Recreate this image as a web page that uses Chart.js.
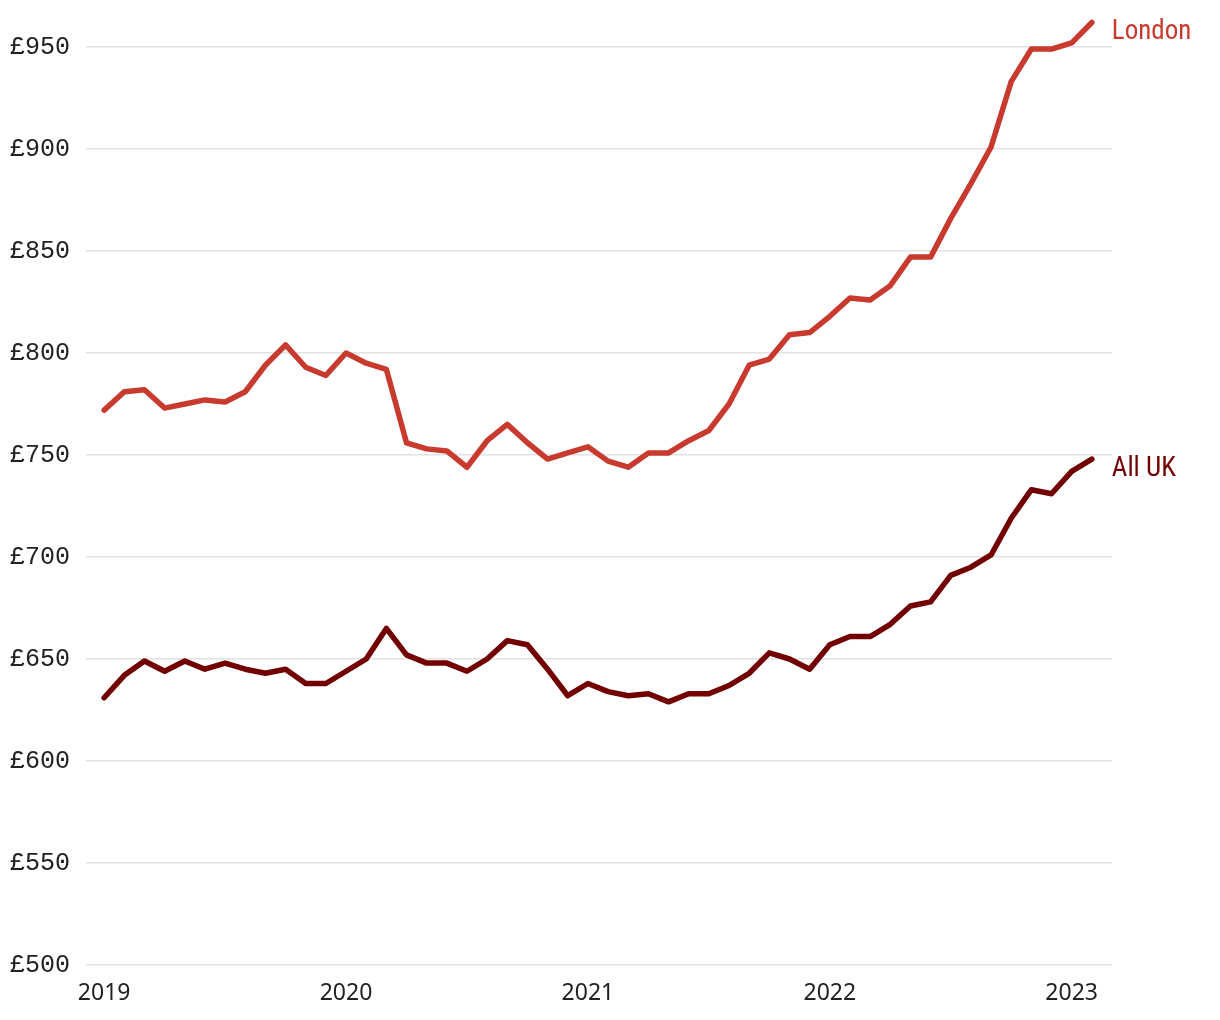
<!DOCTYPE html>
<html>
<head>
<meta charset="utf-8">
<script src="https://cdn.jsdelivr.net/npm/chart.js@4"></script>
<style>
  html, body { margin: 0; padding: 0; background: #ffffff; }
  #wrap { width: 1220px; height: 1020px; position: relative; }
</style>
</head>
<body>
<div id="wrap"><canvas id="c" width="1220" height="1020"></canvas></div>
<script>
// Monthly data, Jan 2019 – Feb 2023 (index 0 = Jan 2019)
const months = Array.from({length: 50}, (_, i) => i);
const londonValues = [772, 781, 782, 773, 775, 777, 776, 781, 794, 804, 793, 789,
                      800, 795, 792, 756, 753, 752, 744, 757, 765, 756, 748, 751,
                      754, 747, 744, 751, 751, 757, 762, 775, 794, 797, 809, 810,
                      818, 827, 826, 833, 847, 847, 866, 883, 901, 933, 949, 949,
                      952, 962];
const ukValues = [631, 642, 649, 644, 649, 645, 648, 645, 643, 645, 638, 638,
                  644, 650, 665, 652, 648, 648, 644, 650, 659, 657, 645, 632,
                  638, 634, 632, 633, 629, 633, 633, 637, 643, 653, 650, 645,
                  657, 661, 661, 667, 676, 678, 691, 695, 701, 719, 733, 731,
                  742, 748];
const seriesNames = ['London', 'All UK'];
const yearTickValues = [0, 12, 24, 36, 48];
const yearTickLabels = ['2019', '2020', '2021', '2022', '2023'];
const yTickValues = [500, 550, 600, 650, 700, 750, 800, 850, 900, 950];

const colors = ['#c93a2e', '#730000'];

const endLabels = {
  id: 'endLabels',
  afterDatasetsDraw(chart) {
    const ctx = chart.ctx;
    ctx.save();
    chart.data.datasets.forEach((ds, i) => {
      const meta = chart.getDatasetMeta(i);
      const pt = meta.data[meta.data.length - 1];
      ctx.fillStyle = colors[i];
      ctx.font = '27px "Liberation Sans Narrow", "Roboto Condensed", "Roboto", sans-serif';
      ctx.textAlign = 'left';
      ctx.textBaseline = 'middle';
      ctx.fillText(ds.label, pt.x + 20, pt.y + 10);
    });
    ctx.restore();
  }
};

new Chart(document.getElementById('c'), {
  type: 'line',
  data: {
    datasets: [
      { label: seriesNames[0], data: months.map((m, i) => ({x: m, y: londonValues[i]})),
        borderColor: colors[0], borderWidth: 5.5, pointRadius: 0, tension: 0,
        borderJoinStyle: 'round', borderCapStyle: 'round', clip: false },
      { label: seriesNames[1], data: months.map((m, i) => ({x: m, y: ukValues[i]})),
        borderColor: colors[1], borderWidth: 5.5, pointRadius: 0, tension: 0,
        borderJoinStyle: 'round', borderCapStyle: 'round', clip: false }
    ]
  },
  options: {
    responsive: false,
    animation: false,
    devicePixelRatio: 1,
    layout: { padding: { left: 10, right: 108, top: 47, bottom: 0 } },
    plugins: { legend: { display: false }, tooltip: { enabled: false } },
    scales: {
      x: {
        type: 'linear',
        min: -0.9,
        max: 50,
        afterBuildTicks(scale) { scale.ticks = yearTickValues.map(v => ({value: v})); },
        afterFit(scale) { scale.height = 55; },
        grid: { display: false },
        border: { display: false },
        ticks: {
          callback: (v) => yearTickLabels[yearTickValues.indexOf(v)],
          color: '#222',
          font: { family: '"Noto Sans", sans-serif', size: 23 },
          padding: 7,
          maxRotation: 0,
          autoSkip: false
        }
      },
      y: {
        min: 500,
        max: 950,
        afterBuildTicks(scale) { scale.ticks = yTickValues.map(v => ({value: v})); },
        afterFit(scale) { scale.width = 76; },
        grid: { color: '#e2e2e2', lineWidth: 1.5, drawTicks: false },
        border: { display: false },
        ticks: {
          callback: (v) => '£' + v,
          color: '#222',
          font: { family: '"Liberation Mono", "DejaVu Sans Mono", monospace', size: 25 },
          crossAlign: 'far',
          padding: 12
        }
      }
    }
  },
  plugins: [endLabels]
});
</script>
</body>
</html>
